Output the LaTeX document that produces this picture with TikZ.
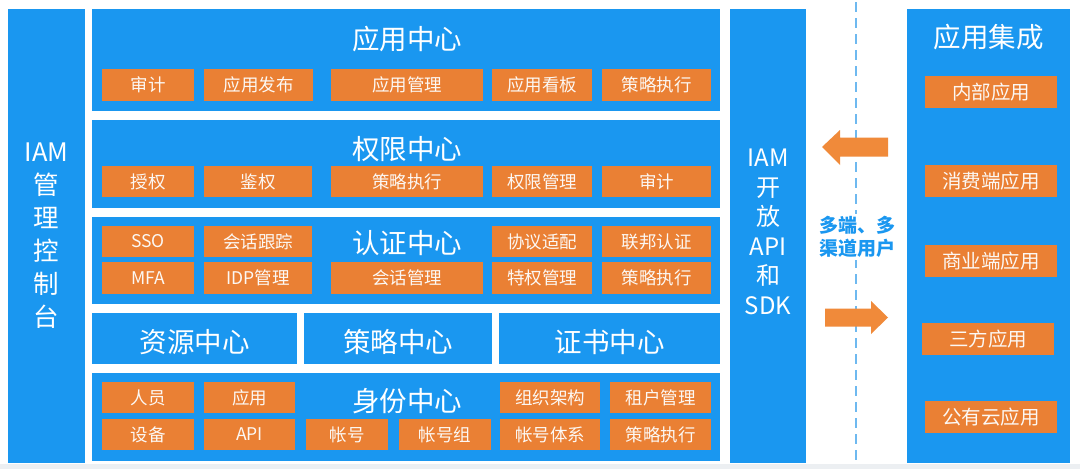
\documentclass[tikz,border=0pt]{standalone}
\usepackage{fontspec}
\setmainfont{Noto Sans CJK SC}
\definecolor{pblue}{RGB}{26,151,240}
\definecolor{porange}{RGB}{234,128,52}
\definecolor{parrow}{RGB}{240,138,58}
\definecolor{pdash}{RGB}{110,185,240}
\definecolor{ptext}{RGB}{252,248,244}
\definecolor{pbg}{RGB}{236,239,242}
\newcommand\cbox[7]{%
  \node[#1, minimum width={(#5-#3)*1pt}, minimum height={(#6-#4)*1pt}] (#2) at ({(#3+#5)/2},{(#4+#6)/2}) {#7};}
\begin{document}
\begin{tikzpicture}[x=1pt,y=-1pt,
  bluebox/.style={fill=pblue, draw=none, inner sep=0pt, outer sep=0pt},
  orbox/.style={fill=porange, draw=none, inner sep=0pt, outer sep=0pt, text=ptext, font=\fontsize{17.5}{20}\selectfont},
  apbox/.style={orbox, font=\fontsize{19.5}{22}\selectfont},
  title/.style={text=white, inner sep=0pt, font=\fontsize{27.5}{30}\selectfont},
  coltext/.style={text=white, inner sep=0pt, align=center},
  bigarrow/.style={fill=parrow, draw=none}
]
\useasboundingbox (0,0) rectangle (1080,469);
\fill[white] (0,0) rectangle (1080,469);
\fill[pbg] (0,464) rectangle (1080,469);

% columns
\cbox{bluebox}{L}{8}{9}{85}{463}{}
\cbox{bluebox}{M}{730}{9}{806}{463}{}
\cbox{bluebox}{R}{907}{9}{1070}{463}{}
\node[coltext, font=\fontsize{25.5}{33}\selectfont] (Ltext) at (46.5,236) {IAM\\管\\理\\控\\制\\台};
\node[coltext, font=\fontsize{24}{29.5}\selectfont] (Mtext) at (768,232) {IAM\\开\\放\\API\\和\\SDK};
\node[title] (Rtitle) at (988.5,37) {应用集成};

% panels
\cbox{bluebox}{P1}{92}{9}{720}{111}{}
\cbox{bluebox}{P2}{92}{120}{720}{208}{}
\cbox{bluebox}{P3}{92}{217}{720}{304}{}
\cbox{bluebox}{Q1}{92}{313}{297}{364}{}
\cbox{bluebox}{Q2}{304}{313}{492}{364}{}
\cbox{bluebox}{Q3}{499}{313}{720}{364}{}
\cbox{bluebox}{P5}{92}{373}{720}{461}{}

\node[title] (T1) at (407,39) {应用中心};
\node[title] (T2) at (407,149) {权限中心};
\node[title] (T3) at (407,243) {认证中心};
\node[title] (T5) at (407,401) {身份中心};
\node[title] (TQ1) at (194.5,342) {资源中心};
\node[title] (TQ2) at (398,342) {策略中心};
\node[title] (TQ3) at (609.5,342) {证书中心};

% panel 1
\cbox{orbox}{a1}{102}{69}{194}{101}{审计}
\cbox{orbox}{a2}{204}{69}{313}{101}{应用发布}
\cbox{orbox}{a3}{331}{69}{483}{101}{应用管理}
\cbox{orbox}{a4}{492}{69}{592}{101}{应用看板}
\cbox{orbox}{a5}{602}{69}{711}{101}{策略执行}
% panel 2
\cbox{orbox}{b1}{102}{166}{194}{197}{授权}
\cbox{orbox}{b2}{204}{166}{312}{197}{鉴权}
\cbox{orbox}{b3}{331}{166}{483}{197}{策略执行}
\cbox{orbox}{b4}{492}{166}{592}{197}{权限管理}
\cbox{orbox}{b5}{602}{166}{711}{197}{审计}
% panel 3
\cbox{orbox}{c1}{102}{226}{194}{257}{SSO}
\cbox{orbox}{c2}{204}{226}{312}{257}{会话跟踪}
\cbox{orbox}{c3}{492}{226}{592}{257}{协议适配}
\cbox{orbox}{c4}{602}{226}{711}{257}{联邦认证}
\cbox{orbox}{d1}{102}{262}{194}{294}{MFA}
\cbox{orbox}{d2}{204}{262}{312}{294}{IDP管理}
\cbox{orbox}{d3}{331}{262}{483}{294}{会话管理}
\cbox{orbox}{d4}{492}{262}{592}{294}{特权管理}
\cbox{orbox}{d5}{602}{262}{711}{294}{策略执行}
% panel 5
\cbox{orbox}{e1}{102}{382}{194}{413}{人员}
\cbox{orbox}{e2}{204}{382}{295}{413}{应用}
\cbox{orbox}{e3}{500}{382}{600}{413}{组织架构}
\cbox{orbox}{e4}{610}{382}{711}{413}{租户管理}
\cbox{orbox}{f1}{102}{419}{194}{450}{设备}
\cbox{orbox}{f2}{204}{419}{295}{450}{API}
\cbox{orbox}{f3}{306}{419}{388}{450}{帐号}
\cbox{orbox}{f4}{399}{419}{491}{450}{帐号组}
\cbox{orbox}{f5}{500}{419}{600}{450}{帐号体系}
\cbox{orbox}{f6}{610}{419}{711}{450}{策略执行}

% right column items
\cbox{apbox}{r1}{925}{76}{1057}{108}{内部应用}
\cbox{apbox}{r2}{925}{165}{1057}{197}{消费端应用}
\cbox{apbox}{r3}{925}{245}{1057}{277}{商业端应用}
\cbox{apbox}{r4}{922}{323}{1054}{355}{三方应用}
\cbox{apbox}{r5}{925}{401}{1057}{433}{公有云应用}

% dashed divider
\coordinate (dtop) at (856,2);
\coordinate (dbot) at (856,462);
\draw[pdash, line width=2pt, dash pattern=on 10pt off 6pt] (dtop) -- (dbot);
\node[fill=white, text=pblue, align=center, inner sep=2pt, font=\bfseries\fontsize{19}{23}\selectfont] (users) at (857,237) {多端、多\\渠道用户};

% arrows
\fill[bigarrow] (822,147) -- (840,130) -- (840,137.5) -- (888,137.5) -- (888,156.5) -- (840,156.5) -- (840,165) -- cycle;
\fill[bigarrow] (888,317.5) -- (871,301) -- (871,308.5) -- (825,308.5) -- (825,326.5) -- (871,326.5) -- (871,334) -- cycle;
\end{tikzpicture}
\end{document}
